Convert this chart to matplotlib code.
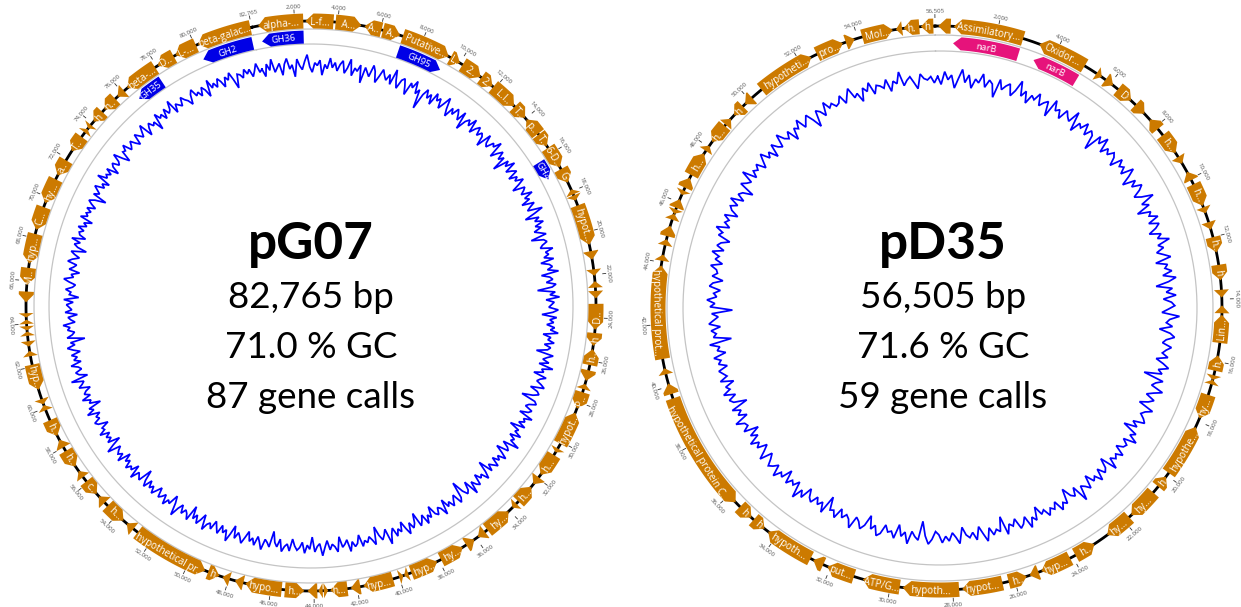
import numpy as np
import matplotlib
matplotlib.use("Agg")
import matplotlib.pyplot as plt

W, H = 1241, 607

# ---------------------------------------------------------------- pG07
pg07_name = "pG07"
pg07_length = 82765
pg07_gc_percent = 71.0
pg07_gene_calls = 87

# (start kb, end kb, strand, label shown on the arrow)
pg07_genes = [
    (0.30, 2.40, -1, "alpha-..."), (2.50, 3.80, -1, "L-f..."), (3.90, 5.10, 1, "A..."),
    (5.25, 6.05, -1, "A.."), (6.12, 6.95, 1, "A.."), (7.08, 9.40, 1, "Putative..."),
    (9.50, 10.00, 1, "L.."), (10.15, 11.15, 1, "2.."), (11.20, 11.85, 1, "2.."),
    (11.90, 13.20, 1, "L.I.."), (13.25, 13.95, 1, "T.."), (14.05, 14.90, -1, "p.."),
    (14.95, 15.60, 1, "T.."), (15.70, 16.75, 1, "6-D..."), (16.85, 17.55, 1, "G"),
    (17.90, 18.15, -1, ""), (18.20, 18.45, 1, ""), (18.70, 20.60, 1, "hypot..."),
    (20.90, 21.30, 1, ""), (21.75, 22.05, 1, ""), (22.30, 22.60, -1, ""),
    (22.75, 23.10, 1, ""), (23.35, 24.55, 1, "D.."), (24.70, 25.30, 1, "h"),
    (25.45, 26.20, -1, "h.."), (26.45, 26.95, 1, ""), (27.10, 27.35, -1, ""),
    (27.50, 28.30, 1, "P.."), (28.50, 30.10, -1, "hypot..."), (30.35, 30.55, 1, ""),
    (30.70, 31.80, 1, "h..."), (31.95, 32.35, 1, ""), (32.50, 33.40, -1, "h..."),
    (33.55, 33.80, 1, ""), (34.05, 35.35, -1, "hy..."), (35.50, 35.90, 1, ""),
    (36.10, 36.55, -1, ""), (36.75, 37.90, -1, "hy..."), (38.10, 39.40, -1, "hyp..."),
    (39.55, 39.75, 1, ""), (39.80, 40.00, -1, ""), (40.30, 41.70, 1, "hyp..."),
    (41.85, 42.30, 1, ""), (42.45, 43.25, 1, "h..."), (43.35, 43.55, -1, ""),
    (43.60, 43.80, 1, ""), (43.85, 44.30, 1, ""), (44.45, 45.35, -1, "h..."),
    (45.50, 47.20, 1, "hypo..."), (47.30, 47.70, 1, ""), (47.95, 48.30, 1, ""),
    (48.45, 49.00, -1, "h."), (49.15, 52.75, -1, "hypothetical pr..."),
    (53.00, 53.40, 1, ""), (53.60, 54.60, -1, "h..."), (54.80, 55.20, 1, ""),
    (55.35, 56.10, -1, "c.."), (56.35, 56.70, 1, ""), (56.95, 57.80, -1, "h.."),
    (58.00, 58.40, 1, ""), (58.60, 59.40, -1, "h.."), (59.90, 60.15, 1, ""),
    (60.20, 60.45, -1, ""), (60.90, 62.10, -1, "hyp..."), (62.50, 62.75, 1, ""),
    (62.95, 63.20, -1, ""), (63.45, 63.65, 1, ""), (63.70, 63.90, -1, ""),
    (64.00, 64.20, 1, ""), (64.30, 64.50, -1, ""), (65.00, 65.50, -1, ""),
    (65.80, 66.60, -1, "M.."), (66.80, 68.20, -1, "hyp..."), (68.40, 69.50, -1, "C..."),
    (69.70, 70.90, -1, "hy..."), (71.10, 71.90, -1, "a.."), (72.40, 73.20, -1, "T.."),
    (73.45, 73.65, 1, ""), (73.70, 73.90, -1, ""), (74.10, 74.70, -1, "h"),
    (74.85, 75.55, -1, "h.."), (75.70, 76.10, -1, ""), (76.30, 77.90, -1, "beta-..."),
    (78.05, 78.90, -1, "D.."), (79.00, 80.05, -1, "L-..."), (80.15, 82.70, -1, "beta-galac..."),
]

# glycoside hydrolase families (start kb, end kb, strand, label)
pg07_cazy = [
    (0.35, 2.40, -1, "GH36"), (7.10, 9.35, 1, "GH95"), (16.05, 17.00, 1, "GH4"),
    (76.40, 77.80, -1, "GH35"), (80.10, 82.65, -1, "GH2"),
]

# GC content (%) in consecutive windows around the plasmid
pg07_gc = [
    72, 66, 75, 70, 78, 68, 71, 74, 65, 73, 77, 69, 72, 63, 76, 71, 68, 74, 79, 70, 66, 73, 71, 75, 64, 72, 69, 77, 70, 74,
    68, 73, 76, 67, 71, 78, 66, 72, 70, 75, 62, 74, 71, 68, 77, 73, 65, 70, 76, 72, 69, 74, 67, 79, 71, 66, 73, 75, 70, 64,
    74, 71, 77, 68, 72, 58, 70, 75, 69, 73, 66, 76, 71, 74, 67, 72, 78, 70, 65, 73, 69, 75, 72, 68, 76, 63, 71, 74, 70, 77,
    67, 72, 75, 69, 73, 71, 64, 76, 70, 68, 74, 72, 78, 66, 71, 75, 69, 73, 62, 74, 70, 77, 68, 72, 75, 67, 73, 70, 76, 71,
    65, 74, 72, 69, 77, 70, 73, 66, 75, 71, 68, 79, 72, 64, 74, 70, 76, 69, 73, 67, 71, 75, 63, 72, 74, 70, 68, 77, 71, 73,
    69, 76, 66, 72, 74, 70, 78, 65, 71, 73, 68, 75, 72, 61, 74, 70, 77, 67, 73, 71, 69, 76, 72, 64, 75, 70, 73, 68, 74, 71,
    77, 66, 72, 70, 75, 68, 73, 71, 63, 76, 72, 69, 74, 67, 78, 70, 72, 65, 75, 71, 69, 73, 76, 66, 72, 74, 70, 62, 73, 75,
    70, 68, 74, 72, 66, 77, 71, 73, 69, 75, 64, 72, 70, 76, 68, 73, 71, 79, 67, 72, 74, 65, 71, 76, 70, 73, 68, 75, 72, 69,
    74, 63, 71, 76, 70, 72, 67, 75, 73, 69, 78, 66, 72, 74, 70, 61, 73, 76, 68, 71, 75, 70, 73, 66, 77, 71, 69, 74, 72, 65,
    73, 70, 76, 68, 72, 75, 64, 71, 74, 69, 77, 72, 66, 73, 70, 75, 68, 72, 79, 67, 71, 74, 70, 63, 76, 72, 69, 73, 71, 75,
    66, 72, 74, 70, 77, 68, 71, 73, 65, 76, 72, 70, 74, 67, 72, 78, 69, 71, 75, 64, 73, 70, 76, 68, 72, 74, 71, 66, 75, 70,
    72, 76, 67, 73, 70, 62, 74, 71, 69, 77, 72, 68, 75, 70, 73, 66, 71, 76, 72, 69, 74, 65, 72, 78, 70, 73, 68, 75, 71, 67,
    74, 70, 72, 77, 66, 71, 75, 69, 73, 64, 76, 72, 70, 74, 68, 72, 79, 70, 65, 73, 71, 76, 69, 72, 74, 67, 71, 75, 70, 73,
    68, 75, 71, 63, 74, 72, 70, 77, 67, 73, 71, 75, 69, 72, 66, 76, 70, 73, 71, 68, 78, 72, 65, 74, 70, 73, 69, 76, 71, 72,
    66, 73, 75, 70, 72, 68, 77, 71, 74, 64, 72, 70, 76, 69, 73, 71, 67, 75, 72, 70, 79, 66, 72, 74, 69, 71, 76, 68, 73, 70,
    74, 67, 72, 76, 70, 73, 62, 75, 71, 69, 74, 72, 77, 68, 71, 73, 66, 75, 70, 72, 74, 69, 76, 65, 72, 71, 75, 70, 68, 73,
    77, 70, 72, 66, 74, 71, 69, 76, 73, 68, 72, 75, 64, 71, 74, 70, 77, 67, 72, 73, 70, 75, 69, 72, 66, 76, 71, 73, 70, 74,
    68, 72, 75, 71, 63, 74, 70, 73, 76, 69, 72, 67, 78, 71, 73, 70, 75, 66, 72, 74, 69, 71, 77, 70, 65, 73, 72, 76, 69, 71,
    74, 70, 67, 75, 72, 69, 73, 77, 66, 71, 74, 70, 72, 64, 76, 71, 73, 68, 75, 70, 72, 78, 67, 73, 71, 69, 75, 72, 70, 66,
    73, 76, 70, 72, 68, 74, 71, 65, 77, 70, 73, 69, 75, 72, 67, 74, 71, 76, 70, 63, 73, 72, 69, 75, 71, 74, 68, 72, 77, 70,
]

# ---------------------------------------------------------------- pD35
pd35_name = "pD35"
pd35_length = 56505
pd35_gc_percent = 71.6
pd35_gene_calls = 59

pd35_genes = [
    (0.10, 0.50, -1, ""), (0.60, 2.85, -1, "Assimilatory..."), (3.40, 5.00, -1, "Oxidor..."),
    (5.45, 5.65, 1, ""), (5.80, 6.10, 1, ""), (6.30, 6.85, 1, "D"),
    (7.05, 7.45, 1, ""), (7.70, 8.10, -1, ""), (8.35, 9.05, 1, "h..."),
    (9.20, 9.45, 1, ""), (9.75, 10.05, -1, ""), (10.20, 10.95, 1, "h..."),
    (11.00, 11.20, 1, ""), (11.50, 11.75, 1, ""), (12.00, 12.50, 1, "h.."),
    (12.90, 13.40, 1, "h"), (13.70, 13.95, 1, ""), (14.20, 14.45, -1, ""),
    (14.50, 15.40, -1, "Lin..."), (15.80, 16.30, -1, "h."), (16.45, 16.60, 1, ""),
    (16.60, 16.75, -1, ""), (17.10, 17.90, 1, "hy..."), (18.20, 19.90, -1, "hypothe..."),
    (20.05, 20.45, -1, "h"), (20.70, 21.70, 1, "hy..."), (21.80, 22.70, 1, "hy..."),
    (23.20, 23.90, -1, "h.."), (24.10, 25.10, 1, "hyp..."), (25.20, 25.50, 1, ""),
    (25.60, 26.20, -1, "h.."), (26.40, 27.70, 1, "hypot..."), (27.80, 29.60, 1, "hypoth..."),
    (29.70, 30.90, 1, "ATP/G..."), (31.20, 32.10, 1, "put..."), (32.25, 32.60, 1, ""),
    (32.70, 34.30, 1, "hypoth..."), (34.45, 34.90, -1, "h"), (35.00, 35.50, -1, "h"),
    (35.70, 39.60, -1, "hypothetical protein C..."), (39.75, 40.10, 1, ""), (40.40, 40.60, 1, ""),
    (40.90, 43.90, 1, "hypothetical prot..."), (44.05, 44.25, 1, ""), (44.55, 44.75, 1, ""),
    (44.85, 45.20, 1, ""), (45.40, 45.60, 1, ""), (45.60, 45.75, -1, ""),
    (45.80, 46.10, 1, ""), (46.25, 46.40, -1, ""), (46.50, 46.85, 1, ""),
    (46.95, 47.75, 1, "h..."), (47.85, 48.05, 1, ""), (48.20, 48.85, -1, "h..."),
    (48.90, 49.15, 1, ""), (49.30, 49.70, -1, "h"), (49.80, 50.10, -1, ""),
    (50.50, 52.40, 1, "hypotheti..."), (52.60, 53.50, 1, "pro..."), (53.60, 53.90, 1, ""),
    (54.15, 55.15, 1, "Mol..."), (55.25, 55.45, -1, ""), (55.50, 56.00, -1, "h."),
    (56.05, 56.45, -1, "h"),
]

pd35_nitrate = [
    (0.60, 2.85, -1, "narB"), (3.40, 5.00, -1, "narB"),
]

pd35_gc = [
    73, 68, 76, 71, 74, 66, 72, 78, 70, 75, 67, 73, 71, 77, 69, 74, 72, 64, 76, 70, 73, 75, 68, 72, 79, 70, 74, 67, 73, 71,
    76, 69, 72, 74, 65, 77, 71, 73, 68, 75, 72, 70, 78, 66, 73, 71, 76, 69, 74, 72, 63, 75, 71, 77, 68, 73, 70, 74, 72, 67,
    75, 71, 73, 69, 77, 72, 66, 74, 70, 76, 73, 68, 72, 79, 70, 74, 65, 73, 71, 76, 69, 75, 72, 67, 74, 71, 78, 70, 73, 68,
    72, 76, 66, 73, 71, 75, 69, 77, 72, 64, 74, 70, 76, 68, 73, 75, 71, 67, 78, 72, 70, 74, 66, 73, 76, 71, 69, 75, 72, 70,
    74, 67, 72, 76, 70, 73, 62, 75, 71, 69, 77, 72, 68, 74, 71, 66, 76, 72, 70, 73, 75, 68, 72, 64, 74, 71, 77, 69, 73, 72,
    68, 75, 71, 73, 70, 77, 66, 72, 74, 69, 76, 71, 73, 67, 75, 72, 70, 79, 68, 73, 71, 65, 74, 72, 76, 69, 73, 71, 75, 70,
    72, 66, 74, 71, 77, 69, 73, 75, 68, 72, 70, 76, 64, 73, 71, 74, 69, 77, 72, 67, 75, 70, 73, 71, 66, 76, 72, 69, 74, 71,
    75, 70, 68, 73, 76, 71, 62, 74, 72, 69, 77, 70, 73, 66, 75, 71, 72, 68, 74, 76, 70, 73, 65, 72, 75, 71, 69, 77, 72, 70,
    73, 68, 75, 71, 72, 64, 76, 70, 73, 69, 74, 72, 67, 75, 71, 78, 68, 72, 70, 74, 66, 73, 71, 76, 69, 72, 74, 70, 67, 75,
    70, 66, 72, 69, 74, 67, 71, 64, 73, 69, 70, 75, 66, 71, 68, 73, 62, 70, 72, 67, 74, 69, 71, 65, 73, 68, 70, 72, 66, 71,
    69, 73, 65, 70, 68, 74, 60, 71, 69, 72, 66, 73, 70, 67, 71, 58, 72, 69, 74, 68, 70, 66, 73, 71, 65, 72, 69, 70, 74, 67,
    72, 70, 75, 68, 73, 71, 66, 74, 72, 77, 69, 73, 71, 75, 67, 72, 74, 70, 76, 68, 73, 71, 65, 75, 72, 70, 78, 69, 73, 71,
    74, 68, 72, 76, 70, 73, 67, 75, 71, 69, 77, 72, 70, 74, 66, 73, 71, 76, 69, 72, 75, 70, 64, 74, 72, 68, 76, 71, 73, 70,
    71, 75, 69, 73, 77, 70, 72, 66, 74, 71, 76, 68, 73, 72, 70, 75, 67, 73, 71, 78, 69, 72, 74, 70, 66, 75, 72, 71, 73, 69,
]

# ---------------------------------------------------------------- styling
GENE_COLOR = "#CC7A00"
CAZY_COLOR = "#0000E6"
NAR_COLOR = "#E6137B"
GC_COLOR = "#0000FF"
RING_COLOR = "#C4C4C4"
LABEL_FONT = ["Open Sans", "DejaVu Sans"]
TITLE_FONT = ["Lato", "DejaVu Sans"]

RMAX = 320  # polar r units == pixels


def make_axes(fig, cx, cy, rotation_ccw):
    ax = fig.add_axes([(cx - RMAX) / W, (H - cy - RMAX) / H, 2 * RMAX / W, 2 * RMAX / H],
                      projection="polar")
    ax.set_theta_zero_location("N", offset=rotation_ccw)
    ax.set_theta_direction(-1)
    ax.set_rlim(0, RMAX)
    ax.set_axis_off()
    return ax


def text_rotation(theta_rad, rotation_ccw):
    a = (np.degrees(theta_rad) - rotation_ccw) % 360
    rot = -a
    if 90 < a < 270:
        rot += 180
    return rot


def arrow(ax, t1, t2, strand, r, hw, head_px, color, z=3):
    hl = head_px / r
    if t2 - t1 < hl:
        hl = t2 - t1
    if strand > 0:
        ta = np.linspace(t1, t2 - hl, 40)
        th = np.concatenate([ta, [t2], ta[::-1]])
        rr = np.concatenate([np.full(40, r + hw), [r], np.full(40, r - hw)])
    else:
        ta = np.linspace(t1 + hl, t2, 40)
        th = np.concatenate([[t1], ta, ta[::-1]])
        rr = np.concatenate([[r], np.full(40, r + hw), np.full(40, r - hw)])
    ax.fill(th, rr, color=color, lw=0, zorder=z)


def draw_map(ax, total, genes, feats, feat_color, gc, lay):
    tau = 2 * np.pi
    full = np.linspace(0, tau, 1000)

    # guide rings
    for rr in (lay["ring_out"], lay["ring_in"]):
        ax.plot(full, np.full_like(full, rr), color=RING_COLOR, lw=0.9, zorder=1)

    # backbone
    ax.plot(full, np.full_like(full, lay["R"]), color="black", lw=2.0, zorder=2)

    # genes
    for s, e, strand, lab in genes:
        t1, t2 = tau * s * 1000 / total, tau * e * 1000 / total
        arrow(ax, t1, t2, strand, lay["R"], lay["hw"], lay["head"], GENE_COLOR)
        if lab:
            tm = 0.5 * (t1 + t2)
            ax.text(tm, lay["R"], lab, color="white", fontsize=7.1, family=LABEL_FONT,
                    rotation=text_rotation(tm, lay["rot"]), rotation_mode="anchor",
                    ha="center", va="center_baseline", zorder=5)

    # annotated features
    for s, e, strand, lab in feats:
        t1, t2 = tau * s * 1000 / total, tau * e * 1000 / total
        arrow(ax, t1, t2, strand, lay["fr"], lay["fhw"], lay["head"], feat_color)
        tm = 0.5 * (t1 + t2)
        ax.text(tm, lay["fr"], lab, color="white", fontsize=6.8, family=LABEL_FONT,
                rotation=text_rotation(tm, lay["rot"]), rotation_mode="anchor",
                ha="center", va="center_baseline", zorder=5)

    # position ticks
    marks = [0] + list(range(2000, total - 1000, 2000))
    for p in marks:
        t = tau * p / total
        r0 = lay["R"] + lay["hw"] + 1.0
        ax.plot([t, t], [r0, r0 + 3], color="#333333", lw=0.6, zorder=2)
        lab = f"{total:,}" if p == 0 else f"{p:,}"
        ax.text(t, r0 + 6.5, lab, color="#555555", fontsize=4.4, family=LABEL_FONT,
                rotation=text_rotation(t, lay["rot"]), rotation_mode="anchor",
                ha="center", va="center_baseline", zorder=5)

    # GC content trace
    g = np.asarray(gc, dtype=float)
    th = tau * (np.arange(len(g)) + 0.5) / len(g)
    rr = lay["gc_r"] + lay["gc_scale"] * (g - g.mean())
    ax.plot(np.append(th, th[0]), np.append(rr, rr[0]), color=GC_COLOR, lw=1.25,
            zorder=4, solid_joinstyle="miter")


def center_text(fig, cx, name, length, gcp, calls):
    fig.text(cx / W, 1 - 245 / H, name, ha="center", va="center", fontsize=37,
             fontweight="bold", family=TITLE_FONT)
    fig.text(cx / W, 1 - 298 / H, f"{length:,} bp", ha="center", va="center",
             fontsize=26.5, family=TITLE_FONT)
    fig.text(cx / W, 1 - 348 / H, f"{gcp:.1f} % GC", ha="center", va="center",
             fontsize=26.5, family=TITLE_FONT)
    fig.text(cx / W, 1 - 397 / H, f"{calls} gene calls", ha="center", va="center",
             fontsize=26.5, family=TITLE_FONT)


fig = plt.figure(figsize=(W / 100, H / 100), dpi=100)

left_layout = dict(R=285, hw=7.5, head=8, fr=269, fhw=6.5, ring_out=277, ring_in=262,
                   gc_r=241, gc_scale=1.35, rot=12)
ax1 = make_axes(fig, 311, 306, left_layout["rot"])
draw_map(ax1, pg07_length, pg07_genes, pg07_cazy, CAZY_COLOR, pg07_gc, left_layout)
center_text(fig, 311, pg07_name, pg07_length, pg07_gc_percent, pg07_gene_calls)

right_layout = dict(R=282, hw=7.5, head=8, fr=265, fhw=6.5, ring_out=273, ring_in=257,
                    gc_r=229, gc_scale=1.6, rot=1)
ax2 = make_axes(fig, 940, 308, right_layout["rot"])
draw_map(ax2, pd35_length, pd35_genes, pd35_nitrate, NAR_COLOR, pd35_gc, right_layout)
center_text(fig, 943, pd35_name, pd35_length, pd35_gc_percent, pd35_gene_calls)

fig.savefig("out.png", dpi=100)
